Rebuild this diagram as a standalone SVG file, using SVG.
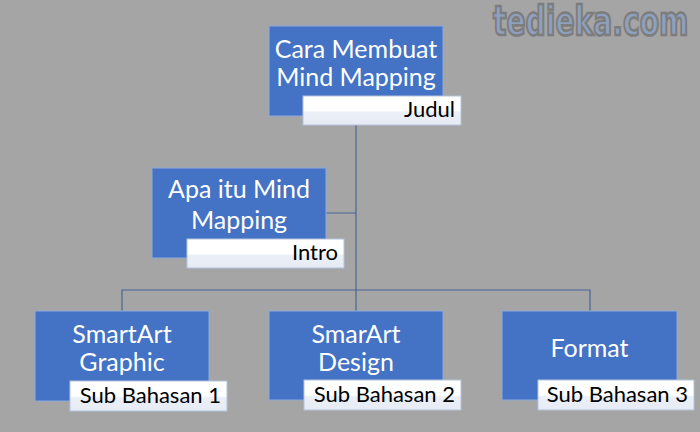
<svg xmlns="http://www.w3.org/2000/svg" width="700" height="432" viewBox="0 0 700 432">
<defs>
<linearGradient id="lbl" x1="0" y1="0" x2="0" y2="1">
<stop offset="0" stop-color="#ffffff"/>
<stop offset="0.5" stop-color="#ffffff"/>
<stop offset="0.56" stop-color="#ebeff7"/>
<stop offset="1" stop-color="#e6ebf5"/>
</linearGradient>
<style>
.box{fill:#4472c4;stroke:#8faadc;stroke-width:1}
.lbl{fill:url(#lbl);stroke:#b4c3dc;stroke-width:1}
.t{font-family:Lato,"Open Sans",sans-serif;font-size:25px;fill:#ffffff;text-anchor:middle}
.l{font-family:Lato,"Open Sans",sans-serif;font-size:22px;fill:#000000;text-anchor:end}
.c{fill:none;stroke:#4a6595;stroke-width:1.2}
.wm{font-family:"DejaVu Sans",sans-serif;font-weight:bold;font-size:40px;fill:#8ea1c1;stroke:#7d7d7d;stroke-width:2.6}
</style>
</defs>
<rect width="700" height="432" fill="#a5a5a5"/>
<text class="wm" transform="translate(493 35) scale(0.705 1)" x="0" y="0">tedieka.com</text>
<g id="connectors">
<path class="c" d="M356 116 V290 M122 311 V290 H590 V311 M356 290 V311 M326 213 H356"/>
</g>
<g id="judul">
<rect class="box" x="269" y="26" width="174" height="90"/>
<text class="t" x="356" y="58">Cara Membuat</text>
<text class="t" x="356" y="86">Mind Mapping</text>
<rect class="lbl" x="303" y="96" width="158" height="29"/>
<text class="l" x="455" y="117">Judul</text>
</g>
<g id="intro">
<rect class="box" x="152" y="168" width="174" height="90"/>
<text class="t" x="239" y="198">Apa itu Mind</text>
<text class="t" x="239" y="229">Mapping</text>
<rect class="lbl" x="187" y="239" width="157" height="29"/>
<text class="l" x="338" y="260">Intro</text>
</g>
<g id="sub1">
<rect class="box" x="35" y="311" width="174" height="90"/>
<text class="t" x="122" y="343">SmartArt</text>
<text class="t" x="122" y="371">Graphic</text>
<rect class="lbl" x="70" y="381" width="157" height="30"/>
<text class="l" x="221" y="403">Sub Bahasan 1</text>
</g>
<g id="sub2">
<rect class="box" x="269" y="311" width="174" height="89"/>
<text class="t" x="356" y="343">SmarArt</text>
<text class="t" x="356" y="371">Design</text>
<rect class="lbl" x="304" y="380" width="157" height="30"/>
<text class="l" x="455" y="402">Sub Bahasan 2</text>
</g>
<g id="sub3">
<rect class="box" x="502" y="311" width="175" height="89"/>
<text class="t" x="589.5" y="357">Format</text>
<rect class="lbl" x="538" y="380" width="156" height="30"/>
<text class="l" x="688" y="402">Sub Bahasan 3</text>
</g>
</svg>
